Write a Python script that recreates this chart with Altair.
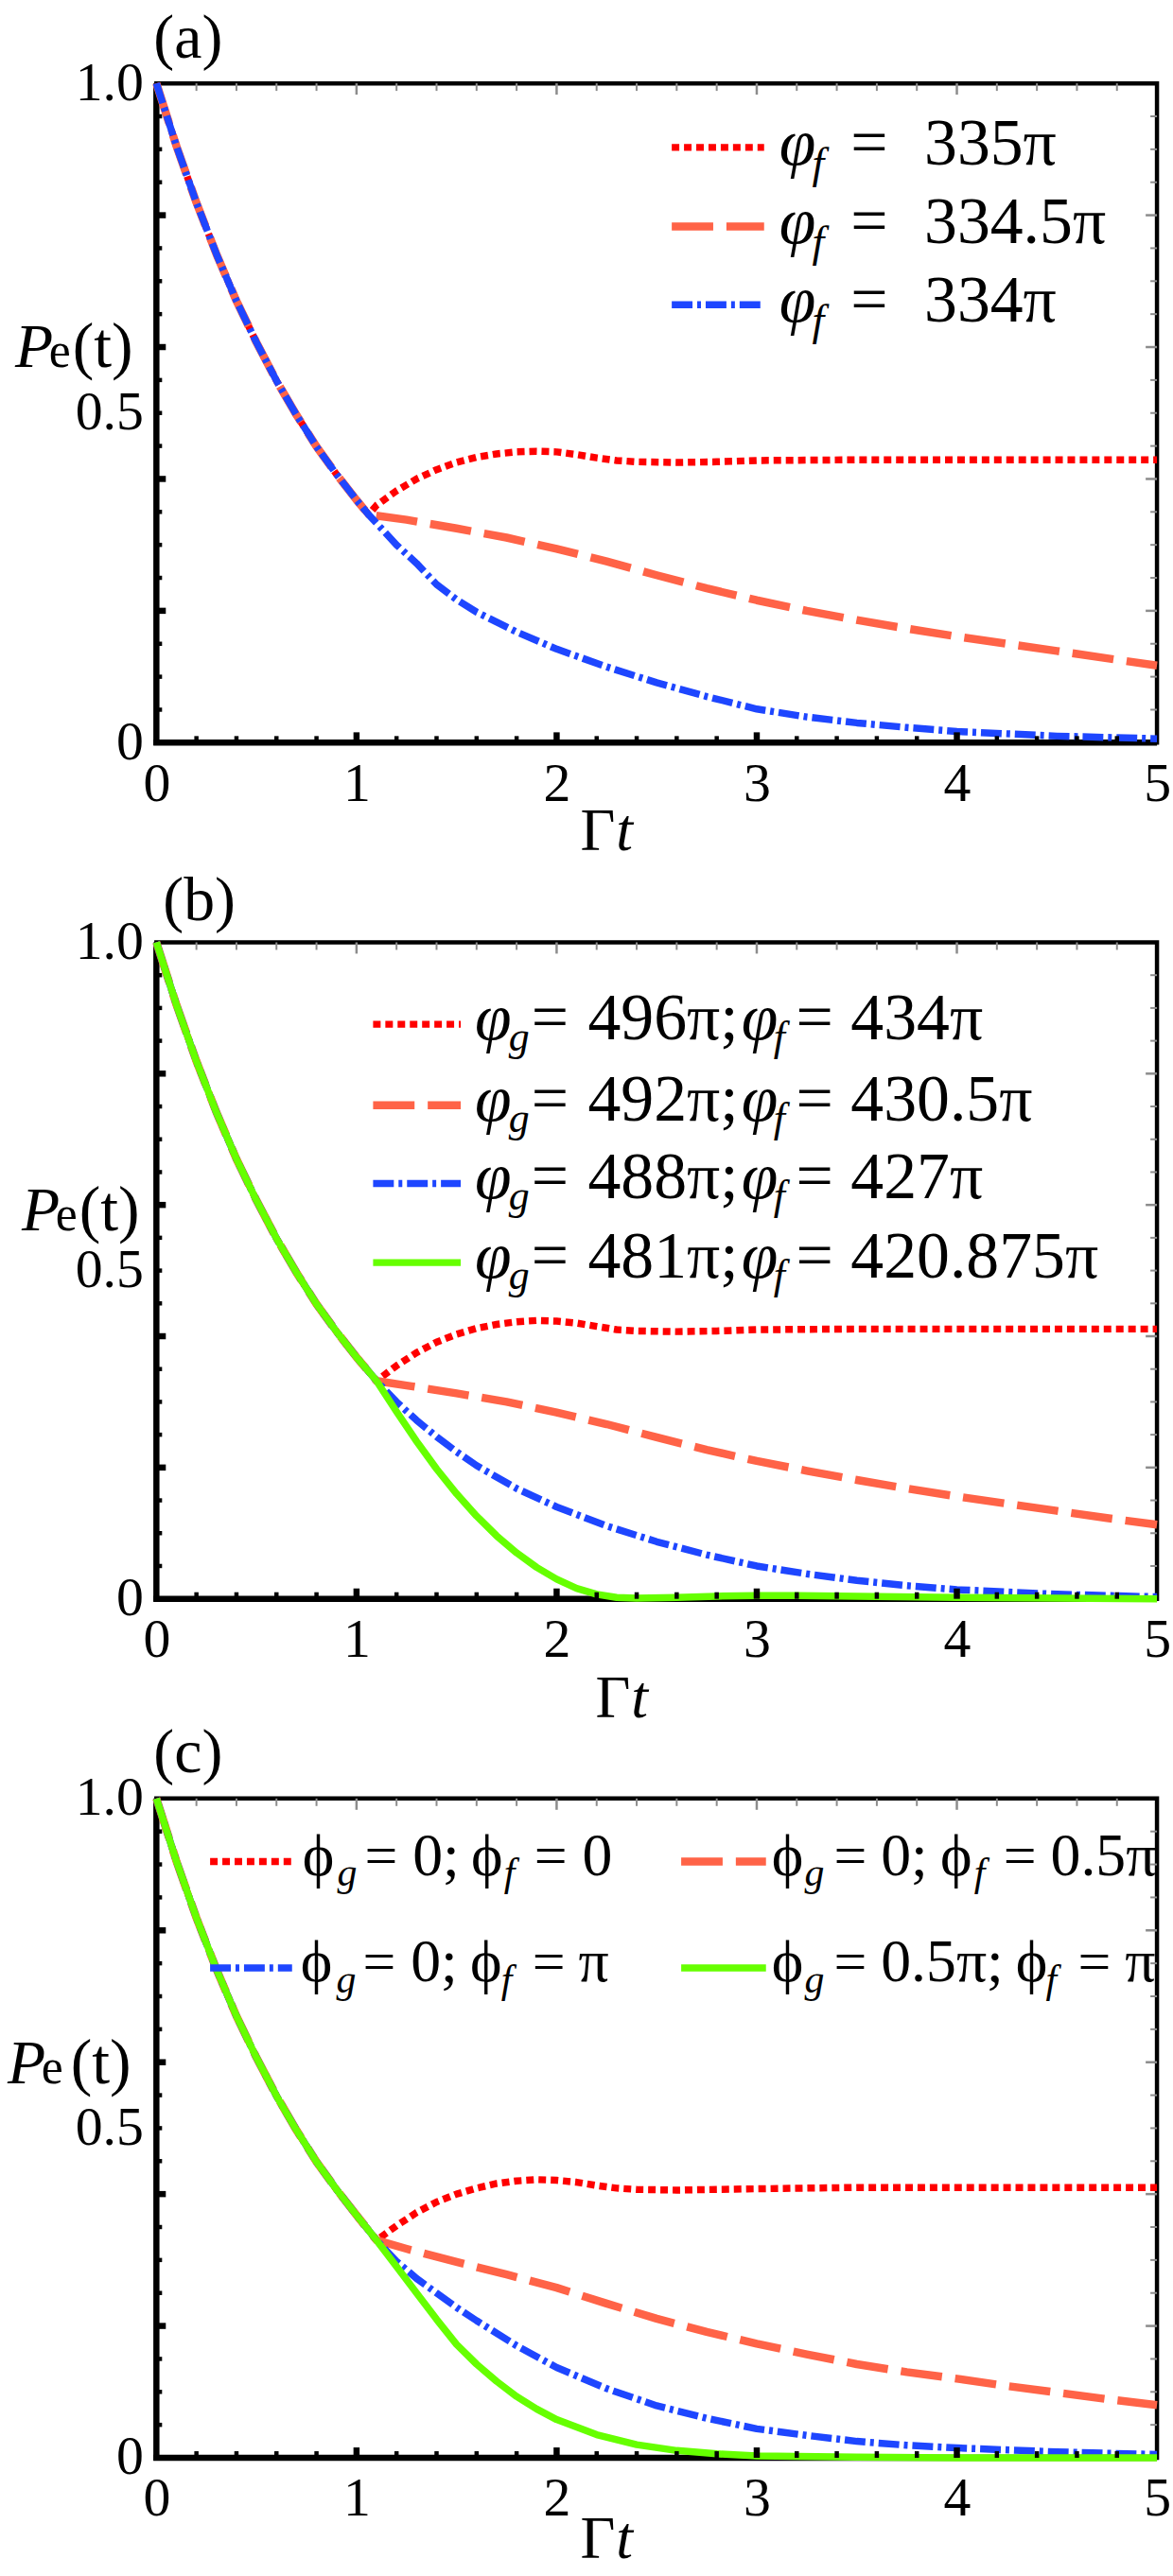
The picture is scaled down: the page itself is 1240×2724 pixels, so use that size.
import altair as alt
import pandas as pd

# ---------------- values ----------------
# common decay before the branching point (all curves coincide)
T_COMMON = [0.0, 0.1, 0.2, 0.3, 0.4, 0.5, 0.6, 0.7, 0.8, 0.9, 1.0]
P_COMMON = [1.000, 0.905, 0.819, 0.741, 0.670, 0.607, 0.549, 0.497, 0.449, 0.407, 0.368]

# ---- panel (a)
A_BRANCH = (1.06, 0.346)
A_RED_T = [1.1, 1.2, 1.3, 1.4, 1.5, 1.6, 1.7, 1.8, 1.9, 2.0, 2.1, 2.2, 2.3, 2.4, 2.6, 2.8, 3.0, 3.5, 4.0, 4.5, 5.0]
A_RED_P = [0.360, 0.382, 0.400, 0.414, 0.425, 0.433, 0.438, 0.441, 0.442, 0.441, 0.437, 0.432, 0.428, 0.426,
           0.425, 0.426, 0.428, 0.429, 0.429, 0.429, 0.429]
A_ORANGE_T = [1.25, 1.5, 1.75, 2.0, 2.25, 2.5, 2.75, 3.0, 3.25, 3.5, 3.75, 4.0, 4.25, 4.5, 4.75, 5.0]
A_ORANGE_P = [0.338, 0.325, 0.311, 0.294, 0.275, 0.254, 0.234, 0.216, 0.200, 0.186, 0.173, 0.161, 0.150,
              0.139, 0.128, 0.117]
A_BLUE_T = [1.2, 1.3, 1.4, 1.5, 1.6, 1.8, 2.0, 2.25, 2.5, 2.75, 3.0, 3.25, 3.5, 3.75, 4.0, 4.5, 5.0]
A_BLUE_P = [0.300, 0.272, 0.240, 0.217, 0.198, 0.168, 0.142, 0.115, 0.091, 0.070, 0.051, 0.039, 0.030,
            0.023, 0.017, 0.010, 0.006]
A_LEGEND = ["335π", "334.5π", "334π"]

# ---- panel (b)
B_BRANCH = (1.1, 0.332)
B_RED_T = [1.2, 1.3, 1.4, 1.5, 1.6, 1.7, 1.8, 1.9, 2.0, 2.1, 2.2, 2.3, 2.4, 2.6, 2.8, 3.0, 3.5, 4.0, 4.5, 5.0]
B_RED_P = [0.355, 0.375, 0.391, 0.403, 0.412, 0.418, 0.422, 0.424, 0.423, 0.420, 0.415, 0.410, 0.408,
           0.407, 0.408, 0.410, 0.411, 0.411, 0.411, 0.411]
B_ORANGE_T = [1.25, 1.5, 1.75, 2.0, 2.25, 2.5, 2.75, 3.0, 3.25, 3.5, 3.75, 4.0, 4.25, 4.5, 4.75, 5.0]
B_ORANGE_P = [0.325, 0.313, 0.300, 0.284, 0.266, 0.246, 0.227, 0.210, 0.195, 0.181, 0.168, 0.156, 0.145,
              0.134, 0.123, 0.113]
B_BLUE_T = [1.2, 1.3, 1.4, 1.5, 1.6, 1.8, 2.0, 2.25, 2.5, 2.75, 3.0, 3.25, 3.5, 3.75, 4.0, 4.5, 5.0]
B_BLUE_P = [0.300, 0.272, 0.247, 0.224, 0.203, 0.168, 0.140, 0.111, 0.087, 0.067, 0.050, 0.038, 0.028,
            0.020, 0.014, 0.007, 0.003]
B_GREEN_T = [1.2, 1.3, 1.4, 1.5, 1.6, 1.7, 1.8, 1.9, 2.0, 2.1, 2.2, 2.3, 2.4, 2.6, 2.8, 3.0, 3.2, 3.5,
             4.0, 4.5, 5.0]
B_GREEN_P = [0.285, 0.240, 0.198, 0.160, 0.126, 0.096, 0.070, 0.048, 0.030, 0.016, 0.007, 0.002, 0.001,
             0.002, 0.004, 0.005, 0.005, 0.004, 0.002, 0.001, 0.000]
B_LEGEND_G = ["496π;", "492π;", "488π;", "481π;"]
B_LEGEND_F = ["434π", "430.5π", "427π", "420.875π"]

# ---- panel (c)
C_BRANCH = (1.1, 0.330)
C_RED_T = [1.2, 1.3, 1.4, 1.5, 1.6, 1.7, 1.8, 1.9, 2.0, 2.1, 2.2, 2.3, 2.4, 2.6, 2.8, 3.0, 3.5, 4.0, 4.5, 5.0]
C_RED_P = [0.352, 0.372, 0.388, 0.400, 0.409, 0.416, 0.420, 0.422, 0.421, 0.418, 0.413, 0.409, 0.407,
           0.406, 0.407, 0.408, 0.410, 0.410, 0.410, 0.410]
C_ORANGE_T = [1.25, 1.5, 1.75, 2.0, 2.25, 2.5, 2.75, 3.0, 3.25, 3.5, 3.75, 4.0, 4.25, 4.5, 4.75, 5.0]
C_ORANGE_P = [0.317, 0.297, 0.278, 0.258, 0.234, 0.211, 0.191, 0.173, 0.157, 0.142, 0.130, 0.120, 0.109,
              0.099, 0.089, 0.080]
C_BLUE_T = [1.2, 1.3, 1.4, 1.5, 1.6, 1.8, 2.0, 2.25, 2.5, 2.75, 3.0, 3.25, 3.5, 3.75, 4.0, 4.5, 5.0]
C_BLUE_P = [0.298, 0.272, 0.250, 0.228, 0.208, 0.170, 0.137, 0.105, 0.079, 0.060, 0.044, 0.034, 0.025,
            0.019, 0.015, 0.009, 0.005]
C_GREEN_T = [1.2, 1.3, 1.4, 1.5, 1.6, 1.7, 1.8, 1.9, 2.0, 2.2, 2.4, 2.6, 2.8, 3.0, 3.5, 4.0, 5.0]
C_GREEN_P = [0.290, 0.250, 0.210, 0.172, 0.142, 0.116, 0.093, 0.074, 0.058, 0.035, 0.020, 0.011, 0.006,
             0.003, 0.001, 0.000, 0.000]
C_LEGEND_G = ["0;", "0;", "0;", "0.5π;"]     # red, orange, blue, green
C_LEGEND_F = ["0", "0.5π", "π", "π"]

# axis tick positions
Y_LABELS = [0, 0.5, 1.0]
X_LABELS = [0, 1, 2, 3, 4, 5]
Y_MINOR = [0.05, 0.1, 0.15, 0.25, 0.3, 0.35, 0.45, 0.5, 0.55, 0.65, 0.7, 0.75, 0.85, 0.9, 0.95]
Y_MAJOR = [0.2, 0.4, 0.6, 0.8]
X_MINOR = [0.2, 0.4, 0.6, 0.8, 1.2, 1.4, 1.6, 1.8, 2.2, 2.4, 2.6, 2.8, 3.2, 3.4, 3.6, 3.8,
           4.2, 4.4, 4.6, 4.8]
X_MAJOR = [1, 2, 3, 4]

# ---------------- styling / layout ----------------
W = 1062
SERIF = "Liberation Serif"
STYLES = {
    "red": dict(color="#FF0000", strokeDash=[8, 5], strokeWidth=7.5),
    "orange": dict(color="#FF6347", strokeDash=[44, 14], strokeWidth=8.5),
    "blue": dict(color="#1E46FF", strokeDash=[22, 5, 4, 5], strokeWidth=7.5),
    "green": dict(color="#66FF00", strokeWidth=7.5),
}
GRAY = "#8c8c8c"


def dx(px):
    return px * 5.0 / W


X_AXIS = alt.Axis(values=X_LABELS, format="d", title="", domain=False, ticks=False, tickSize=0,
                  grid=False, labelFont=SERIF, labelFontSize=58, labelColor="black",
                  labelPadding=15, labelFlush=False, labelOverlap=False)
Y_AXIS = alt.Axis(values=Y_LABELS, title="", domain=False, ticks=False, tickSize=0, grid=False,
                  labelFont=SERIF, labelFontSize=58, labelColor="black", labelPadding=14,
                  labelFlush=False, labelOverlap=False,
                  labelExpr="datum.value == 0 ? '0' : format(datum.value, '.1f')")
X = alt.X("t:Q", scale=alt.Scale(domain=[0, 5], nice=False, zero=False), axis=X_AXIS)
Y = alt.Y("p:Q", scale=alt.Scale(domain=[0, 1], nice=False, zero=False), axis=Y_AXIS)


def rules(df, **mark):
    enc = dict(x=X, y=Y)
    if "t2" in df.columns:
        enc["x2"] = alt.X2("t2:Q")
    if "p2" in df.columns:
        enc["y2"] = alt.Y2("p2:Q")
    return alt.Chart(df).mark_rule(strokeCap="butt", **mark).encode(**enc)


def texts(rows, italic, h):
    df = pd.DataFrame([{"t": dx(r[1]), "p": 1 - r[2] / h, "txt": r[0], "fs": r[3]} for r in rows])
    m = dict(font=SERIF, align="left", baseline="alphabetic", color="black")
    if italic:
        m["fontStyle"] = "italic"
    return alt.Chart(df).mark_text(**m).encode(
        x=X, y=Y, text="txt:N", size=alt.Size("fs:Q", scale=None))


def curve(style, tt, pp, branch):
    ts = T_COMMON + [branch[0]] + tt
    ps = P_COMMON + [branch[1]] + pp
    df = pd.DataFrame({"t": ts, "p": ps, "o": list(range(len(ts)))})
    return alt.Chart(df).mark_line(strokeCap="butt", strokeJoin="round", **STYLES[style]).encode(
        x=X, y=Y, order="o:Q")


def panel(series, branch, h, samples, segs, anchor=False):
    layers = []
    if anchor:
        layers.append(rules(pd.DataFrame({"t": [dx(-163)], "t2": [dx(-158)], "p": [1 + 77 / h]}),
                            color="white", opacity=0, strokeWidth=0.2))
    # left / bottom axis lines
    layers.append(rules(pd.DataFrame({"t": [0.0], "p": [-0.004], "p2": [1.0]}), color="black", strokeWidth=6.5))
    layers.append(rules(pd.DataFrame({"t": [-0.015], "t2": [5.0], "p": [0.0]}), color="black", strokeWidth=6.5))
    # curves
    for style, tt, pp in series:
        layers.append(curve(style, tt, pp, branch))
    # ticks (inside the frame)
    layers.append(rules(pd.DataFrame({"p": Y_MINOR, "t": [0.0] * len(Y_MINOR), "t2": [dx(6)] * len(Y_MINOR)}),
                        color="black", strokeWidth=4.5))
    layers.append(rules(pd.DataFrame({"p": Y_MAJOR, "t": [0.0] * 4, "t2": [dx(10)] * 4}),
                        color="black", strokeWidth=6.5))
    layers.append(rules(pd.DataFrame({"t": X_MINOR, "p": [0.0] * len(X_MINOR), "p2": [7 / h] * len(X_MINOR)}),
                        color="black", strokeWidth=4.5))
    layers.append(rules(pd.DataFrame({"t": X_MAJOR, "p": [0.0] * 4, "p2": [11 / h] * 4}),
                        color="black", strokeWidth=6.5))
    layers.append(rules(pd.DataFrame({"t": X_MINOR, "p": [1.0] * len(X_MINOR), "p2": [1 - 8 / h] * len(X_MINOR)}),
                        color=GRAY, strokeWidth=2))
    layers.append(rules(pd.DataFrame({"t": X_MAJOR, "p": [1.0] * 4, "p2": [1 - 12 / h] * 4}),
                        color=GRAY, strokeWidth=2.5))
    layers.append(rules(pd.DataFrame({"p": Y_MINOR, "t": [5.0] * len(Y_MINOR), "t2": [5 - dx(7)] * len(Y_MINOR)}),
                        color=GRAY, strokeWidth=2))
    layers.append(rules(pd.DataFrame({"p": Y_MAJOR, "t": [5.0] * 4, "t2": [5 - dx(12)] * 4}),
                        color=GRAY, strokeWidth=2.5))
    # legend samples
    for style, x0, x1, y in samples:
        sty = dict(STYLES[style])
        layers.append(rules(pd.DataFrame({"t": [dx(x0)], "t2": [dx(x1)], "p": [1 - y / h]}), **sty))
    # texts
    up = [s[:4] for s in segs if not s[4]]
    it = [s[:4] for s in segs if s[4]]
    layers.append(texts(up, False, h))
    layers.append(texts(it, True, h))
    return alt.layer(*layers).properties(width=W, height=h)


# ---------------- panel (a) ----------------
HA = 700
a_series = [("red", A_RED_T, A_RED_P), ("orange", A_ORANGE_T, A_ORANGE_P), ("blue", A_BLUE_T, A_BLUE_P)]
a_rows = [86, 170, 253]
a_samples, a_segs = [], []
for i, style in enumerate(["red", "orange", "blue"]):
    b = a_rows[i]
    a_samples.append((style, 547, 645, b - 18))
    a_segs += [("φ", 661, b, 70, True), ("f", 696, b + 14, 46, True),
               ("=", 737, b, 70, False), (A_LEGEND[i], 815, b, 70, False)]
a_segs += [("(a)", -3, -27, 66, False),
           ("P", -150, 301, 66, True), ("e", -114, 301, 52, False), ("(t)", -89, 301, 68, False),
           ("Γ", 450, HA + 114, 64, False), ("t", 488, HA + 114, 64, True)]
pa = panel(a_series, A_BRANCH, HA, a_samples, a_segs, anchor=True)

# ---------------- panel (b) ----------------
HB = 697
b_series = [("red", B_RED_T, B_RED_P), ("orange", B_ORANGE_T, B_ORANGE_P),
            ("blue", B_BLUE_T, B_BLUE_P), ("green", B_GREEN_T, B_GREEN_P)]
b_rows = [103, 189, 272, 356]
b_samples, b_segs = [], []
for i, style in enumerate(["red", "orange", "blue", "green"]):
    b = b_rows[i]
    b_samples.append((style, 230, 323, b - 16))
    b_segs += [("φ", 338, b, 70, True), ("g", 374, b + 12, 44, True), ("=", 398, b, 70, False),
               (B_LEGEND_G[i], 458, b, 70, False), ("φ", 621, b, 70, True),
               ("f", 655, b + 12, 44, True), ("=", 679, b, 70, False),
               (B_LEGEND_F[i], 737, b, 70, False)]
b_segs += [("(b)", 7, -24, 66, False),
           ("P", -143, 306, 66, True), ("e", -107, 306, 52, False), ("(t)", -82, 306, 68, False),
           ("Γ", 466, HB + 126, 64, False), ("t", 504, HB + 126, 64, True)]
pb = panel(b_series, B_BRANCH, HB, b_samples, b_segs)

# ---------------- panel (c) ----------------
HC = 700
c_series = [("red", C_RED_T, C_RED_P), ("orange", C_ORANGE_T, C_ORANGE_P),
            ("blue", C_BLUE_T, C_BLUE_P), ("green", C_GREEN_T, C_GREEN_P)]
c_rows = [81, 194]
# (style, row, sample x0, x1, phi_g, g, eq, v1, phi_f, f, eq, v2)
c_layout = [("red", 0, 57, 144, 155, 192, 221, 272, 334, 369, 401, 452),
            ("orange", 0, 557, 647, 653, 688, 719, 769, 832, 868, 899, 949),
            ("blue", 1, 57, 144, 153, 191, 219, 270, 333, 366, 399, 448),
            ("green", 1, 557, 647, 653, 688, 719, 769, 912, 944, 978, 1028)]
c_samples, c_segs = [], []
for i, (style, r, x0, x1, p1, g1, e1, v1, p2, f2, e2, v2) in enumerate(c_layout):
    b = c_rows[r]
    c_samples.append((style, x0, x1, b - 14))
    c_segs += [("ϕ", p1, b, 64, False), ("g", g1, b + 12, 42, True), ("=", e1, b, 62, False),
               (C_LEGEND_G[i], v1, b, 64, False), ("ϕ", p2, b, 64, False),
               ("f", f2, b + 12, 42, True), ("=", e2, b, 62, False), (C_LEGEND_F[i], v2, b, 64, False)]
c_segs += [("(c)", -3, -28, 66, False),
           ("P", -158, 302, 66, True), ("e", -122, 302, 52, False), ("(t)", -91, 302, 68, False),
           ("Γ", 450, HC + 106, 64, False), ("t", 488, HC + 106, 64, True)]
pc = panel(c_series, C_BRANCH, HC, c_samples, c_segs)

chart = alt.vconcat(pa, pb, pc, spacing=212, bounds="flush").properties(
    padding=0, background="white"
).configure_view(stroke="black", strokeWidth=4.5)

chart.save("out.html", embed_options={"renderer": "svg", "actions": False})
